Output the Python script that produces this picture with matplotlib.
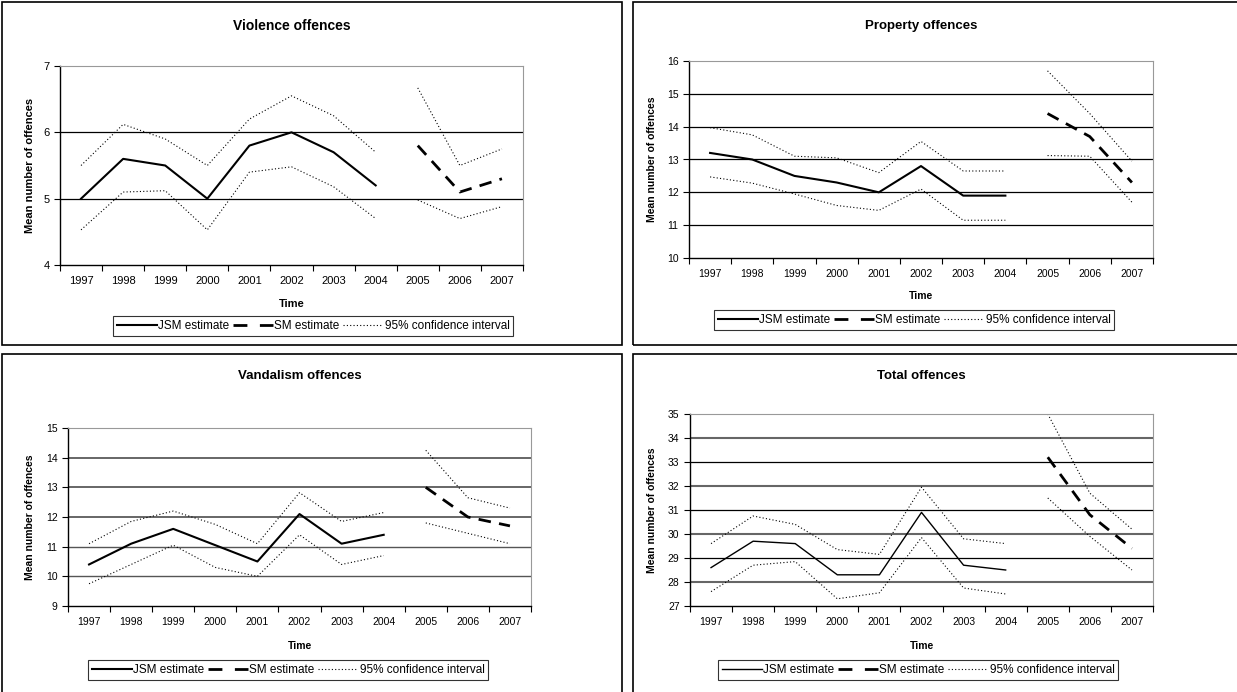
import matplotlib
matplotlib.use("Agg")
import matplotlib.pyplot as plt
from matplotlib.patches import Rectangle
from matplotlib.lines import Line2D

plt.rcParams['font.family'] = ['Liberation Sans', 'DejaVu Sans']

YEARS = ['1997', '1998', '1999', '2000', '2001', '2002', '2003', '2004', '2005', '2006', '2007']
JSM_X = [0, 1, 2, 3, 4, 5, 6, 7]
SM_X = [8, 9, 10]

# violence offences
viol_jsm = [5.0, 5.6, 5.5, 5.0, 5.8, 6.0, 5.7, 5.2]
viol_jsm_hi = [5.5, 6.12, 5.9, 5.5, 6.2, 6.55, 6.25, 5.7]
viol_jsm_lo = [4.53, 5.1, 5.12, 4.53, 5.4, 5.48, 5.18, 4.7]
viol_sm = [5.8, 5.1, 5.3]
viol_sm_hi = [6.67, 5.5, 5.75]
viol_sm_lo = [4.98, 4.7, 4.88]

# property offences
prop_jsm = [13.2, 13.0, 12.5, 12.3, 12.0, 12.8, 11.9, 11.9]
prop_jsm_hi = [13.97, 13.75, 13.1, 13.05, 12.6, 13.55, 12.65, 12.65]
prop_jsm_lo = [12.47, 12.28, 11.95, 11.6, 11.45, 12.1, 11.15, 11.15]
prop_sm = [14.4, 13.7, 12.3]
prop_sm_hi = [15.7, 14.4, 12.95]
prop_sm_lo = [13.12, 13.1, 11.7]

# vandalism offences
vand_jsm = [10.4, 11.1, 11.6, 11.05, 10.5, 12.1, 11.1, 11.4]
vand_jsm_hi = [11.1, 11.85, 12.2, 11.75, 11.1, 12.82, 11.85, 12.15]
vand_jsm_lo = [9.75, 10.4, 11.05, 10.3, 10.0, 11.4, 10.4, 10.7]
vand_sm = [13.0, 12.0, 11.7]
vand_sm_hi = [14.25, 12.65, 12.3]
vand_sm_lo = [11.8, 11.45, 11.1]

# total offences
tot_jsm = [28.6, 29.7, 29.6, 28.3, 28.3, 30.9, 28.7, 28.5]
tot_jsm_hi = [29.6, 30.75, 30.4, 29.35, 29.15, 31.95, 29.8, 29.6]
tot_jsm_lo = [27.6, 28.7, 28.85, 27.3, 27.55, 29.85, 27.75, 27.5]
tot_sm = [33.2, 30.8, 29.4]
tot_sm_hi = [35.0, 31.7, 30.2]
tot_sm_lo = [31.5, 29.9, 28.5]

W, H = 1237, 692
fig = plt.figure(figsize=(W / 100, H / 100), dpi=100)


def px(x0, y0, x1, y1):
    # pixel box -> figure fraction [left, bottom, width, height]
    return [x0 / W, 1 - y1 / H, (x1 - x0) / W, (y1 - y0) / H]


DOT = (0, (1, 2))
DASH = (0, (4.5, 3))
LEG_DASH = (0, (5, 4.5))


def panel(box, ax_box, title, title_y, ylim, jsm, jsm_hi, jsm_lo, sm, sm_hi, sm_lo,
          fs, jsm_lw, time_y, leg_xy, ylab_x, grid_colors):
    fig.add_artist(Rectangle((box[0] / W, 1 - box[3] / H), (box[2] - box[0]) / W,
                             (box[3] - box[1]) / H, transform=fig.transFigure,
                             fill=False, edgecolor='black', lw=1.2))
    ax = fig.add_axes(px(*ax_box))
    # horizontal gridlines
    for i, v in enumerate(range(ylim[0] + 1, ylim[1])):
        c, w = grid_colors[i % len(grid_colors)]
        ax.axhline(v, color=c, lw=w, zorder=0)
    ax.plot(JSM_X, jsm_hi, color='black', lw=0.8, linestyle=DOT)
    ax.plot(JSM_X, jsm_lo, color='black', lw=0.8, linestyle=DOT)
    ax.plot(SM_X, sm_hi, color='black', lw=0.8, linestyle=DOT)
    ax.plot(SM_X, sm_lo, color='black', lw=0.8, linestyle=DOT)
    ax.plot(JSM_X, jsm, color='black', lw=jsm_lw)
    ax.plot(SM_X, sm, color='black', lw=2.0, linestyle=DASH)
    ax.set_xlim(-0.5, 10.5)
    ax.set_ylim(*ylim)
    ax.set_yticks(range(ylim[0], ylim[1] + 1))
    ax.set_xticks(range(11))
    ax.set_xticklabels(YEARS)
    ax.set_xticks([i - 0.5 for i in range(12)], minor=True)
    ax.tick_params(axis='x', which='major', length=0, labelsize=fs, pad=8)
    ax.tick_params(axis='x', which='minor', length=4, width=0.8)
    ax.tick_params(axis='y', length=4, width=0.8, labelsize=fs)
    for s in ['top', 'right']:
        ax.spines[s].set_color('#999999')
    for s in ['left', 'bottom']:
        ax.spines[s].set_linewidth(1.0)
    fig.text((ax_box[0] + ax_box[2]) / 2 / W, 1 - title_y / H, title, ha='center',
             va='center', fontsize=fs + 2, fontweight='bold')
    fig.text((ax_box[0] + ax_box[2]) / 2 / W, 1 - time_y / H, 'Time', ha='center',
             va='center', fontsize=fs, fontweight='bold')
    fig.text(ylab_x / W, 1 - (ax_box[1] + ax_box[3]) / 2 / H, 'Mean number of offences',
             rotation=90, ha='center', va='center', fontsize=fs, fontweight='bold')
    handles = [Line2D([], [], color='black', lw=jsm_lw),
               Line2D([], [], color='black', lw=2.0, linestyle=LEG_DASH),
               Line2D([], [], color='black', lw=0.8, linestyle=DOT)]
    leg = fig.legend(handles, ['JSM estimate', 'SM estimate', '95% confidence interval'],
                     loc='center', bbox_to_anchor=(leg_xy[0] / W, 1 - leg_xy[1] / H),
                     ncol=3, fontsize=8.5, frameon=True, fancybox=False,
                     handlelength=3.4, handletextpad=0.15, columnspacing=0.25,
                     borderpad=0.3, borderaxespad=0)
    leg.get_frame().set_edgecolor('black')
    leg.get_frame().set_linewidth(0.8)
    return ax


panel((2, 2, 622, 345), (60, 66, 523, 265), 'Violence offences', 26, (4, 7),
      viol_jsm, viol_jsm_hi, viol_jsm_lo, viol_sm, viol_sm_hi, viol_sm_lo,
      8, 1.5, 304, (313, 326), 30, [('black', 0.9)])
panel((633, 2, 1245, 345), (689, 61, 1153, 258), 'Property offences', 26, (10, 16),
      prop_jsm, prop_jsm_hi, prop_jsm_lo, prop_sm, prop_sm_hi, prop_sm_lo,
      7.5, 1.5, 296, (914, 320), 652, [('black', 0.9)])
panel((2, 354, 622, 700), (68, 428, 531, 606), 'Vandalism offences', 376, (9, 15),
      vand_jsm, vand_jsm_hi, vand_jsm_lo, vand_sm, vand_sm_hi, vand_sm_lo,
      7.5, 1.5, 646, (288, 670), 30, [('#555555', 1.0), ('#555555', 1.0),
                                       ('#666666', 1.4), ('#666666', 1.4),
                                       ('#666666', 1.4)])
panel((633, 354, 1245, 700), (690, 414, 1153, 606), 'Total offences', 376, (27, 35),
      tot_jsm, tot_jsm_hi, tot_jsm_lo, tot_sm, tot_sm_hi, tot_sm_lo,
      7.5, 1.0, 646, (918, 670), 652, [('#666666', 1.5), ('black', 0.9)])

fig.savefig('out.png', dpi=100)
